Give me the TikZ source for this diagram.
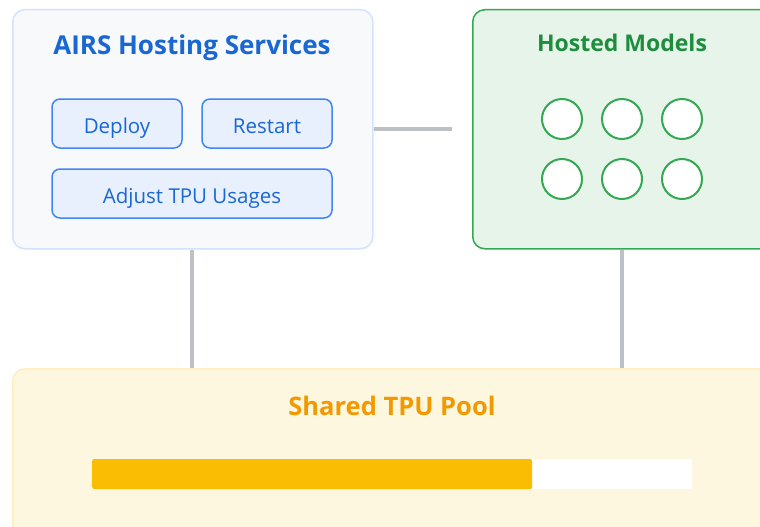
\documentclass[tikz,border=0pt]{standalone}
\usepackage{fontspec}
\setmainfont{Open Sans}
\definecolor{airsfill}{HTML}{F8F9FA}
\definecolor{airsline}{HTML}{D2E3FC}
\definecolor{bluetext}{HTML}{1967D2}
\definecolor{btnfill}{HTML}{E8F0FE}
\definecolor{btnline}{HTML}{4285F4}
\definecolor{greenfill}{HTML}{E6F4EA}
\definecolor{greenline}{HTML}{34A853}
\definecolor{greentext}{HTML}{1E8E3E}
\definecolor{connline}{HTML}{BDC1C6}
\definecolor{poolfill}{HTML}{FEF7E0}
\definecolor{poolline}{HTML}{FEEFC3}
\definecolor{pooltext}{HTML}{F29900}
\definecolor{barfill}{HTML}{FBBC04}
\tikzset{
  panel/.style={draw, line width=1.5pt, rounded corners=12pt, inner sep=0pt},
  btn/.style={draw=btnline, fill=btnfill, line width=1.5pt, rounded corners=8pt,
    minimum height=49pt, text=bluetext, font=\fontsize{20.5}{22}\selectfont,
    inner sep=0pt, text height=20pt, text depth=1pt},
  model/.style={circle, draw=greenline, fill=white, line width=2pt, minimum size=40pt, inner sep=0pt},
  conn/.style={draw=connline, line width=4pt},
  ttl/.style={inner sep=0pt, anchor=base}
}
\begin{document}
\begin{tikzpicture}[x=1pt,y=-1pt]
\useasboundingbox (0,0) rectangle (760,527);
\clip (0,0) rectangle (760,527);
\fill[white] (0,0) rectangle (760,527);
\coordinate (hend) at (452,129);
% panels
\node[panel, draw=airsline, fill=airsfill, minimum width=360pt, minimum height=239pt, anchor=north west] (airs) at (12,9) {};
\node[panel, draw=greenline, fill=greenfill, minimum width=300pt, minimum height=239pt, anchor=north west] (hosted) at (472,9) {};
\node[panel, draw=poolline, fill=poolfill, minimum width=760pt, minimum height=170pt, anchor=north west] (pool) at (12,368) {};
% connectors
\draw[conn] (airs.east |- hend) -- (hend);
\draw[conn] (airs.south -| 192,0) -- (pool.north -| 192,0);
\draw[conn] (hosted.south -| 622,0) -- (pool.north -| 622,0);
% titles
\node[ttl, text=bluetext, font=\fontsize{26}{28}\selectfont\bfseries] (airsttl) at (192,55) {AIRS Hosting Services};
\node[ttl, text=greentext, font=\fontsize{23}{25}\selectfont\bfseries] (hostedttl) at (622,52) {Hosted Models};
\node[ttl, text=pooltext, font=\fontsize{25.5}{27}\selectfont\bfseries] (poolttl) at (392,415) {Shared TPU Pool};
% buttons
\node[btn, minimum width=130pt] (deploy) at (117,123.5) {Deploy};
\node[btn, minimum width=130pt] (restart) at (267,123.5) {Restart};
\node[btn, minimum width=280pt] (adjust) at (192,193.5) {Adjust TPU Usages};
% models
\foreach \i/\x in {1/562,2/622,3/682}{
  \node[model] (m\i a) at (\x,119) {};
  \node[model] (m\i b) at (\x,179) {};
}
% usage bar
\node[fill=white, rounded corners=2pt, minimum width=600pt, minimum height=30pt, inner sep=0pt, anchor=west] (bar) at (92,474) {};
\node[fill=barfill, rounded corners=2pt, minimum width=440pt, minimum height=30pt, inner sep=0pt, anchor=west] (used) at (92,474) {};
\end{tikzpicture}
\end{document}
